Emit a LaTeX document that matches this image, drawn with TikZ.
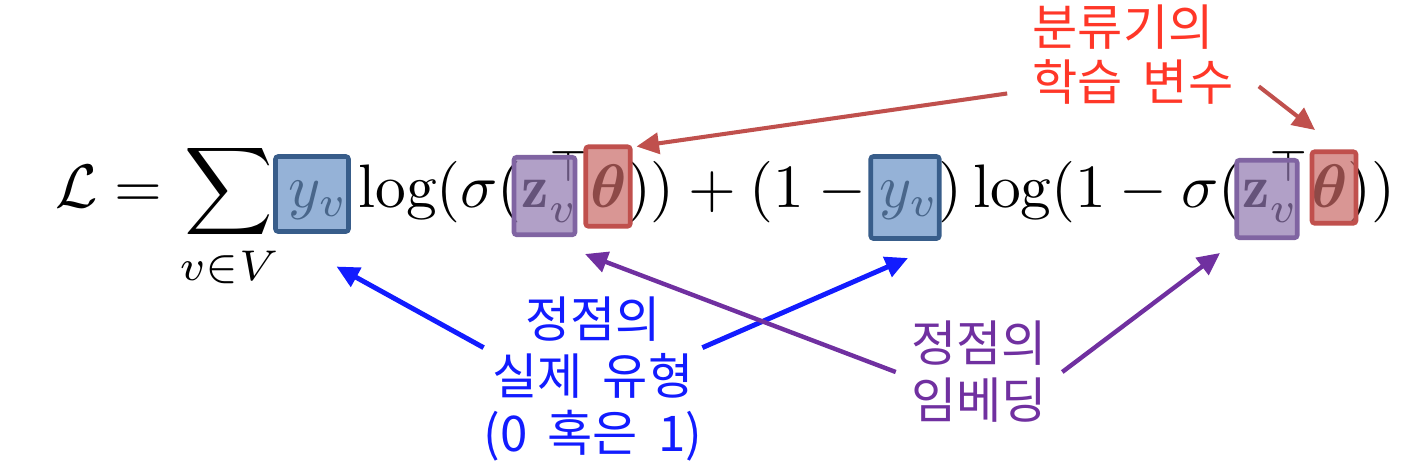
\documentclass[tikz,border=0pt]{standalone}
\usepackage{fontspec}
\usepackage{amsmath,amssymb}
\usepackage{graphicx}
\usepackage{tikz}
\usetikzlibrary{arrows.meta}
\newfontfamily\kr[WordSpace=1.8]{Noto Sans CJK KR}
\definecolor{ybord}{RGB}{56,93,138}
\definecolor{yfill}{RGB}{104,146,198}
\definecolor{zbord}{RGB}{128,100,162}
\definecolor{zfill}{RGB}{144,119,175}
\definecolor{tbord}{RGB}{192,80,77}
\definecolor{tfill}{RGB}{201,105,102}
\definecolor{rtext}{RGB}{255,55,40}
\definecolor{rarrow}{RGB}{192,80,77}
\definecolor{btext}{RGB}{18,28,255}
\definecolor{ptext}{RGB}{112,48,160}

\begin{document}
\begin{tikzpicture}[
		markbox/.style={draw, line width=2.6pt, rounded corners=1.5pt, fill opacity=0.7, inner sep=0pt},
		ybox/.style={markbox, draw=ybord, fill=yfill, minimum width=1.46cm, minimum height=1.5cm},
		zbox/.style={markbox, draw=zbord, fill=zfill, minimum width=1.22cm, minimum height=1.55cm},
		tbox/.style={markbox, draw=tbord, fill=tfill, minimum width=0.89cm, minimum height=1.59cm},
		note/.style={font={\kr\fontsize{28pt}{32.4pt}\selectfont}, inner sep=0pt},
		arrow/.style={-{Triangle[length=0.45cm,width=0.42cm]}, line width=2.8pt}
	]
		\useasboundingbox (0,0) rectangle (28.48,-9.4);
		
		% Formula
		\node[anchor=base west, inner sep=0pt] (loss) at (1.1,-4.14)
			{\resizebox{26.8cm}{!}{$\displaystyle \mathcal{L} = \sum_{v\in V} y_v \log(\sigma(\mathbf{z}_v^\top\boldsymbol{\theta})) + (1-y_v)\log(1-\sigma(\mathbf{z}_v^\top\boldsymbol{\theta}))$}};
		
		% Boxes
		\node[ybox] (y1) at (6.24,-3.88) {};
		\node[zbox] (z1) at (10.89,-3.92) {};
		\node[tbox] (t1) at (12.16,-3.73) {};
		\node[ybox, minimum width=1.37cm, minimum height=1.64cm] (y2) at (18.10,-3.95) {};
		\node[zbox, minimum width=1.21cm] (z2) at (25.34,-3.98) {};
		\node[tbox, minimum width=0.88cm, minimum height=1.43cm] (t2) at (26.68,-3.75) {};
		
		% Labels
		\node[note, text=rtext, align=left, inner xsep=0.5cm, font={\kr\fontsize{28pt}{31.3pt}\selectfont}] (rnote) at (22.66,-1.10) {분류기의\\학습 변수};
		\node[note, text=btext, align=center] (bnote) at (11.86,-7.58) {정점의\\실제 유형\\(0 혹은 1)};
		\node[note, text=ptext, align=center, inner xsep=0.3cm] (pnote) at (19.58,-7.44) {정점의\\임베딩};
		
		% Arrow tips
		\coordinate (rtip1) at (12.73,-2.93);
		\coordinate (rtip2) at (26.30,-2.60);
		\coordinate (btip1) at (6.73,-5.33);
		\coordinate (btip2) at (18.16,-5.16);
		\coordinate (ptip1) at (11.70,-5.08);
		\coordinate (ptip2) at (24.40,-5.06);
		
		% Arrows
		\draw[arrow, rarrow, line width=2.3pt] (rnote.197) -- (rtip1);
		\draw[arrow, rarrow, line width=2.3pt] (rnote.-14) -- (rtip2);
		\draw[arrow, btext] (bnote.164) -- (btip1);
		\draw[arrow, btext] (bnote.16) -- (btip2);
		\draw[arrow, ptext, line width=2.5pt] (pnote.west) -- (ptip1);
		\draw[arrow, ptext, line width=2.5pt] (pnote.east) -- (ptip2);
	\end{tikzpicture}
\end{document}
